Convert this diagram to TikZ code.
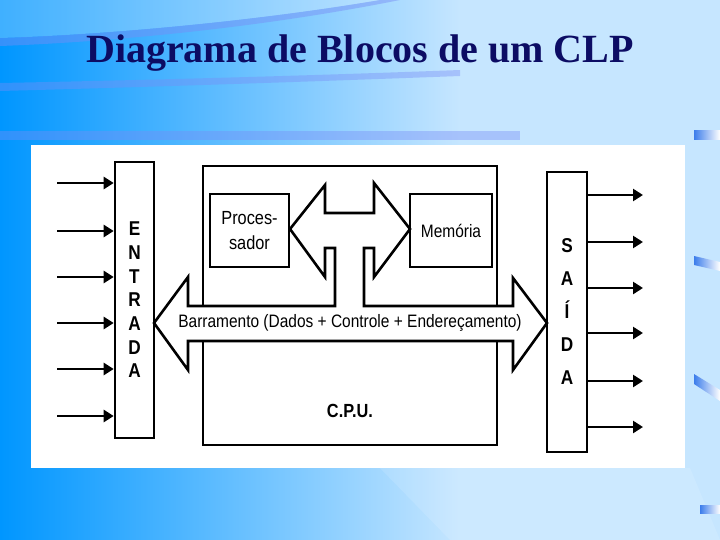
\documentclass[tikz,border=0pt]{standalone}
\usepackage{fontspec}
\setmainfont{Liberation Serif}
\setsansfont{Liberation Sans}
\usetikzlibrary{arrows.meta}
\definecolor{slidedark}{RGB}{0,150,255}
\definecolor{slidelight}{RGB}{198,230,255}
\definecolor{stripeblue}{RGB}{120,140,245}
\definecolor{titleblue}{RGB}{12,12,100}
\definecolor{bitblue}{RGB}{60,125,235}

\begin{document}
\begin{tikzpicture}[x=1pt,y=-1pt,line width=2.6pt,>={Triangle[length=10pt,width=12pt]},
  blk/.style={draw,rectangle,inner sep=0pt},
  io/.style={->,line width=2.7pt},
  lbl/.style={font=\sffamily\fontsize{18}{22}\selectfont,xscale=.86},
  lettercol/.style={font=\sffamily\bfseries\fontsize{20}{#1}\selectfont,align=center,xscale=.86}]
\useasboundingbox (0,0) rectangle (720,540);
% slide background
\shade[left color=slidedark,right color=slidelight,draw=none] (0,0) rectangle (460,540);
\fill[slidelight] (460,0) rectangle (720,540);
\fill[white,opacity=.25] (0,0) -- (380,0) .. controls (250,22) and (100,35) .. (0,38) -- cycle;
\fill[stripeblue,opacity=.45] (0,38) .. controls (100,35) and (250,22) .. (380,0) -- (400,0) .. controls (260,28) and (110,42) .. (0,46) -- cycle;
\fill[stripeblue,opacity=.4] (0,83) .. controls (150,80) and (300,76) .. (460,70) -- (460,76) .. controls (300,82) and (150,87) .. (0,91) -- cycle;
\fill[stripeblue,opacity=.4] (0,131) rectangle (520,140);
\fill[white,opacity=.12] (380,468) -- (690,468) -- (720,540) -- (450,540) -- cycle;
\shade[left color=bitblue,right color=white] (694,131) rectangle (720,140);
\shade[left color=bitblue,right color=white] (694,256) -- (720,262) -- (720,271) -- (694,265) -- cycle;
\shade[left color=bitblue,right color=white] (694,374) -- (720,390) -- (720,401) -- (694,384) -- cycle;
\shade[left color=bitblue,right color=white] (700,505) rectangle (720,513);

% title
\node[anchor=base,text=titleblue,font=\bfseries\fontsize{40}{44}\selectfont] (title) at (360,63) {Diagrama de Blocos de um CLP};

% white panel
\fill[white] (31,145) rectangle (685,468);

% blocks
\node[blk,minimum width=294pt,minimum height=279pt] (cpu) at (350,305.5) {};
\node[blk,minimum width=79pt,minimum height=73pt] (proc) at (249.5,230.5) {};
\node[blk,minimum width=82pt,minimum height=73pt] (mem) at (451,230.5) {};
\node[blk,minimum width=39pt,minimum height=276pt] (entrada) at (134.5,300) {};
\node[blk,minimum width=40pt,minimum height=280pt] (saida) at (567,312) {};

% bus with the processor/memory arrow
\filldraw[fill=white,line join=miter] (154,323) -- (188,277) -- (188,306) -- (335,306) -- (335,248)
  -- (325,248) -- (325,277) -- (290,229) -- (325,185) -- (325,213) -- (374,213) -- (374,183)
  -- (410,229) -- (374,277) -- (374,248) -- (364,248) -- (364,306) -- (513,306) -- (513,278)
  -- (547,323) -- (513,370) -- (513,341) -- (188,341) -- (188,370) -- cycle;

% labels
\node[lbl,align=center,font=\sffamily\fontsize{19}{25}\selectfont] (proclbl) at (proc) {Proces-\\sador};
\node[lbl] (memlbl) at (mem) {Memória};
\node[lbl] (buslbl) at (350,323) {Barramento (Dados + Controle + Endereçamento)};
\node[lbl,font=\sffamily\bfseries\fontsize{19}{22}\selectfont] (cpulbl) at (350,411) {C.P.U.};
\node[lettercol=23.7] (entradalbl) at (entrada) {E\\N\\T\\R\\A\\D\\A};
\node[lettercol=33] (saidalbl) at (saida) {S\\A\\Í\\D\\A};

% inputs
\coordinate (in1) at (57,183);
\coordinate (in2) at (57,231);
\coordinate (in3) at (57,277);
\coordinate (in4) at (57,323);
\coordinate (in5) at (57,369);
\coordinate (in6) at (57,416);
\draw[io] (in1) -- (in1 -| entrada.west);
\draw[io] (in2) -- (in2 -| entrada.west);
\draw[io] (in3) -- (in3 -| entrada.west);
\draw[io] (in4) -- (in4 -| entrada.west);
\draw[io] (in5) -- (in5 -| entrada.west);
\draw[io] (in6) -- (in6 -| entrada.west);

% outputs
\coordinate (out1) at (643,195);
\coordinate (out2) at (643,242);
\coordinate (out3) at (643,288);
\coordinate (out4) at (643,333);
\coordinate (out5) at (643,381);
\coordinate (out6) at (643,427);
\draw[io] (out1 -| saida.east) -- (out1);
\draw[io] (out2 -| saida.east) -- (out2);
\draw[io] (out3 -| saida.east) -- (out3);
\draw[io] (out4 -| saida.east) -- (out4);
\draw[io] (out5 -| saida.east) -- (out5);
\draw[io] (out6 -| saida.east) -- (out6);
\end{tikzpicture}
\end{document}
